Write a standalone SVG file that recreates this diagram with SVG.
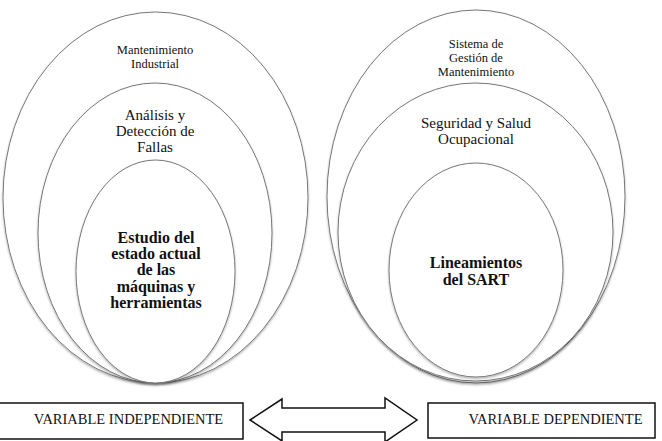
<svg xmlns="http://www.w3.org/2000/svg" width="662" height="441" viewBox="0 0 662 441">
<defs>
<filter id="sh" x="-10%" y="-10%" width="120%" height="120%">
<feDropShadow dx="0" dy="1.5" stdDeviation="1.2" flood-color="#000" flood-opacity="0.3"/>
</filter>
</defs>
<style>
.ell{fill:#fff;stroke:#777;stroke-width:1;filter:url(#sh)}
text{font-family:'Liberation Serif','Times New Roman','DejaVu Serif',serif;fill:#111}
.t{text-anchor:middle}
.s{font-size:12.5px}
.m{font-size:15px}
.b{font-size:16px;font-weight:bold}
.box{fill:#fff;stroke:#111;stroke-width:1.5}
.bt{font-size:14.5px;text-anchor:middle}
</style>
<rect width="662" height="441" fill="#fff"/>
<g id="mantenimiento-industrial">
<ellipse class="ell" cx="155.5" cy="197.5" rx="152.5" ry="185.5"/>
<text class="t s" x="155" y="54">Mantenimiento</text>
<text class="t s" x="155" y="68">Industrial</text>
</g>
<g id="analisis-deteccion">
<ellipse class="ell" cx="155" cy="233" rx="117" ry="150"/>
<text class="t m" x="155" y="120">Análisis y</text>
<text class="t m" x="155" y="136">Detección de</text>
<text class="t m" x="155" y="152">Fallas</text>
</g>
<g id="estudio-estado">
<ellipse class="ell" cx="155.5" cy="271.5" rx="79.5" ry="111.5"/>
<text class="t b" x="156" y="243">Estudio del</text>
<text class="t b" x="156" y="259">estado actual</text>
<text class="t b" x="156" y="275">de las</text>
<text class="t b" x="156" y="292">máquinas y</text>
<text class="t b" x="156" y="308">herramientas</text>
</g>
<g id="sistema-gestion">
<ellipse class="ell" cx="476" cy="196.5" rx="149" ry="186.5"/>
<text class="t s" x="476" y="48">Sistema de</text>
<text class="t s" x="476" y="62">Gestión de</text>
<text class="t s" x="476" y="76">Mantenimiento</text>
</g>
<g id="seguridad-salud">
<ellipse class="ell" cx="475.5" cy="232" rx="137.5" ry="149"/>
<text class="t m" x="476" y="128">Seguridad y Salud</text>
<text class="t m" x="476" y="144">Ocupacional</text>
</g>
<g id="lineamientos-sart">
<ellipse class="ell" cx="476" cy="270" rx="87" ry="107"/>
<text class="t b" x="476" y="268">Lineamientos</text>
<text class="t b" x="476" y="285">del SART</text>
</g>
<g id="variable-independiente">
<rect class="box" x="-1" y="403" width="244" height="36"/>
<text class="bt" x="128.5" y="424">VARIABLE INDEPENDIENTE</text>
</g>
<g id="variable-dependiente">
<rect class="box" x="428" y="403" width="227" height="35"/>
<text class="bt" x="555.5" y="424">VARIABLE DEPENDIENTE</text>
</g>
<g id="connectors">
<polygon points="250,420 282,399 282,408 385,408 385,398 417,420 385,442 385,432 282,432 282,441" fill="#fff" stroke="#111" stroke-width="1.5"/>
</g>
</svg>
